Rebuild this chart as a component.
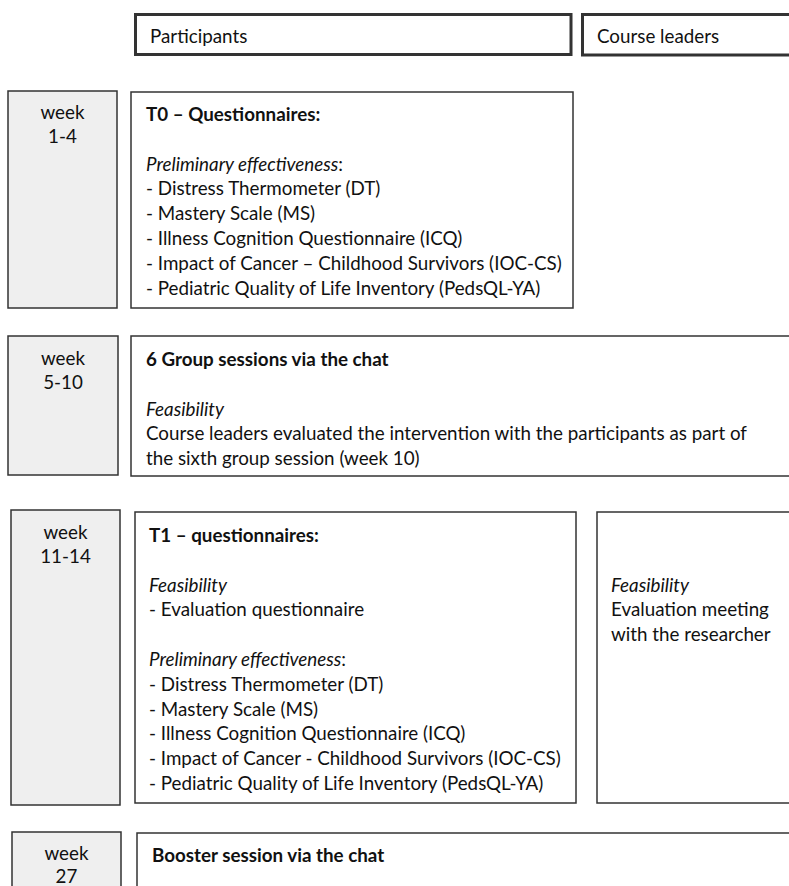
import React from "react";

type Seg = { t: string; s?: "b" | "i" };
type Line = Seg[];

const headers: string[] = ["Participants", "Course leaders"];

const weekLabels: string[][] = [
  ["week", "1-4"],
  ["week", "5-10"],
  ["week", "11-14"],
  ["week", "27"],
];

const t0Lines: Line[] = [
  [{ t: "T0 – Questionnaires:", s: "b" }],
  [],
  [{ t: "Preliminary effectiveness", s: "i" }, { t: ":" }],
  [{ t: "- Distress Thermometer (DT)" }],
  [{ t: "- Mastery Scale (MS)" }],
  [{ t: "- Illness Cognition Questionnaire (ICQ)" }],
  [{ t: "- Impact of Cancer – Childhood Survivors (IOC-CS)" }],
  [{ t: "- Pediatric Quality of Life Inventory (PedsQL-YA)" }],
];

const groupLines: Line[] = [
  [{ t: "6 Group sessions via the chat", s: "b" }],
  [],
  [{ t: "Feasibility", s: "i" }],
  [{ t: "Course leaders evaluated the intervention with the participants as part of" }],
  [{ t: "the sixth group session (week 10)" }],
];

const t1Lines: Line[] = [
  [{ t: "T1 – questionnaires:", s: "b" }],
  [],
  [{ t: "Feasibility", s: "i" }],
  [{ t: "- Evaluation questionnaire" }],
  [],
  [{ t: "Preliminary effectiveness", s: "i" }, { t: ":" }],
  [{ t: "- Distress Thermometer (DT)" }],
  [{ t: "- Mastery Scale (MS)" }],
  [{ t: "- Illness Cognition Questionnaire (ICQ)" }],
  [{ t: "- Impact of Cancer - Childhood Survivors (IOC-CS)" }],
  [{ t: "- Pediatric Quality of Life Inventory (PedsQL-YA)" }],
];

const leaderLines: Line[] = [
  [],
  [],
  [{ t: "Feasibility", s: "i" }],
  [{ t: "Evaluation meeting" }],
  [{ t: "with the researcher" }],
];

const boosterLines: Line[] = [[{ t: "Booster session via the chat", s: "b" }]];

const FONT = "Lato, 'Open Sans', sans-serif";
const FS = 18.8;
const STEP = 24.8;
const TXT = "#111";
const STROKE = "#333";

function TextBlock({ x, y, lines }: { x: number; y: number; lines: Line[] }) {
  return (
    <g>
      {lines.map((ln, i) =>
        ln.length === 0 ? null : (
          <text
            key={i}
            x={x}
            y={y + i * STEP}
            dominantBaseline="central"
            fontFamily={FONT}
            fontSize={FS}
            fill={TXT}
          >
            {ln.map((sg, j) => (
              <tspan
                key={j}
                fontWeight={sg.s === "b" ? 700 : 400}
                fontStyle={sg.s === "i" ? "italic" : "normal"}
              >
                {sg.t}
              </tspan>
            ))}
          </text>
        )
      )}
    </g>
  );
}

function Box({ x, y, w, h, fill = "#fff", sw = 1.5 }: { x: number; y: number; w: number; h: number; fill?: string; sw?: number }) {
  return <rect x={x} y={y} width={w} height={h} fill={fill} stroke={STROKE} strokeWidth={sw} />;
}

function WeekBox({ x, y, w, h, labels, off = 21, step = 24.5 }: { x: number; y: number; w: number; h: number; labels: string[]; off?: number; step?: number }) {
  return (
    <g>
      <Box x={x} y={y} w={w} h={h} fill="#efefef" />
      {labels.map((l, i) => (
        <text
          key={i}
          x={x + w / 2}
          y={y + off + i * step}
          textAnchor="middle"
          dominantBaseline="central"
          fontFamily={FONT}
          fontSize={FS}
          fill={TXT}
        >
          {l}
        </text>
      ))}
    </g>
  );
}

export default function App() {
  const W = 789;
  const H = 886;
  return (
    <svg
      width={W}
      height={H}
      viewBox={`0 0 ${W} ${H}`}
      style={{ position: "absolute", left: 0, top: 0, background: "#fff" }}
    >
      <rect x={0} y={0} width={W} height={H} fill="#fff" />
      {/* headers */}
      <Box x={135.5} y={14.5} w={435.5} h={40} sw={3} />
      <text x={150} y={35} dominantBaseline="central" fontFamily={FONT} fontSize={FS} fill={TXT}>
        {headers[0]}
      </text>
      <Box x={582.5} y={14.5} w={230} h={40.5} sw={3} />
      <text x={597} y={35} dominantBaseline="central" fontFamily={FONT} fontSize={FS} fill={TXT}>
        {headers[1]}
      </text>

      {/* row 1 */}
      <WeekBox x={8} y={91} w={109} h={217} labels={weekLabels[0]} off={20} />
      <Box x={131} y={92} w={442} h={216} />
      <TextBlock x={146} y={113} lines={t0Lines} />

      {/* row 2 */}
      <WeekBox x={8} y={336} w={110} h={139} labels={weekLabels[1]} />
      <Box x={131} y={336} w={700} h={140} />
      <TextBlock x={146} y={358} lines={groupLines} />

      {/* row 3 */}
      <WeekBox x={11} y={510} w={109} h={295} labels={weekLabels[2]} />
      <Box x={135} y={512} w={441} h={291} />
      <TextBlock x={149} y={534} lines={t1Lines} />
      <Box x={597} y={512} w={250} h={291} />
      <TextBlock x={611} y={534} lines={leaderLines} />

      {/* row 4 */}
      <WeekBox x={12} y={832} w={109} h={80} labels={weekLabels[3]} off={20} step={23} />
      <Box x={137} y={833} w={700} h={80} />
      <TextBlock x={152} y={854} lines={boosterLines} />
    </svg>
  );
}
